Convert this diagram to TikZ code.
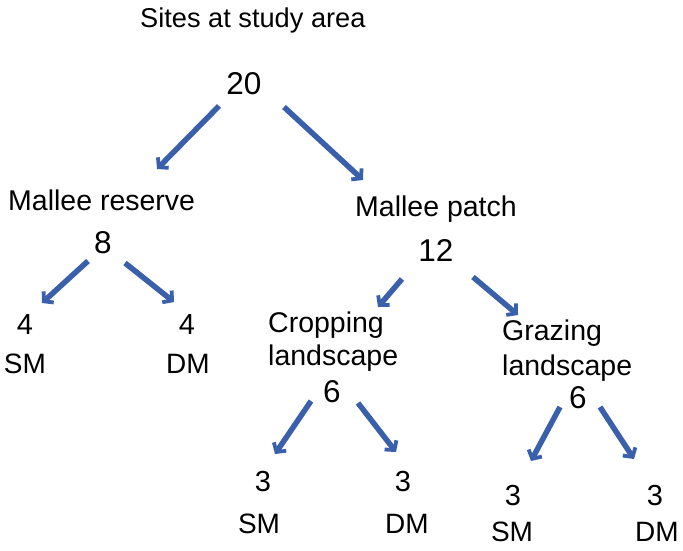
\documentclass[tikz,border=0pt]{standalone}
\usepackage{fontspec}
\setmainfont{Liberation Sans}
\usetikzlibrary{arrows.meta}
\definecolor{arrblue}{RGB}{58,96,172}
\tikzset{
  lbl/.style={inner sep=0pt, anchor=base west, font=\fontsize{28.5}{32}\selectfont},
  ttl/.style={inner sep=0pt, anchor=base west, font=\fontsize{27.2}{31}\selectfont},
  mid/.style={inner sep=0pt, anchor=base, font=\fontsize{31.5}{35}\selectfont},
  leaf/.style={inner sep=0pt, anchor=base, font=\fontsize{29}{33}\selectfont},
  tag/.style={inner sep=0pt, anchor=base, font=\fontsize{28}{32}\selectfont},
  arr/.style={draw=arrblue, line width=5.5pt, -{Straight Barb[length=6.5pt,width=15pt,line width=3.8pt]}}
}
\begin{document}
\begin{tikzpicture}[x=1pt,y=-1pt]
\useasboundingbox (0,0) rectangle (683,550);
% texts
\node[ttl] (title) at (140,27) {Sites at study area};
\node[mid] (n20) at (244,94) {20};
\node[lbl] (mr) at (8,210) {Mallee reserve};
\node[mid] (n8) at (103,253) {8};
\node[leaf] (n4a) at (25,334) {4};
\node[tag] (sm1) at (25,373) {SM};
\node[leaf] (n4b) at (187,334) {4};
\node[tag] (dm1) at (188,373) {DM};
\node[lbl] (mp) at (355,216) {Mallee patch};
\node[mid] (n12) at (436,261) {12};
\node[lbl] (crop1) at (268,332) {Cropping};
\node[lbl] (crop2) at (268,365) {landscape};
\node[mid] (n6a) at (332,402) {6};
\node[leaf] (n3a) at (263,491) {3};
\node[tag] (sm2) at (259,533) {SM};
\node[leaf] (n3b) at (403,491) {3};
\node[tag] (dm2) at (407,533) {DM};
\node[lbl] (graz1) at (502,340) {Grazing};
\node[lbl] (graz2) at (502,375) {landscape};
\node[mid] (n6b) at (578,408) {6};
\node[leaf] (n3c) at (513,505) {3};
\node[tag] (sm3) at (512,541) {SM};
\node[leaf] (n3d) at (655,505) {3};
\node[tag] (dm3) at (657,541) {DM};
% arrow end points
\coordinate (a1s) at (219,106); \coordinate (a1e) at (157,169);
\coordinate (a2s) at (284,107); \coordinate (a2e) at (363,180);
\coordinate (b1s) at (88,261); \coordinate (b1e) at (42,303);
\coordinate (b2s) at (125,263); \coordinate (b2e) at (174,302);
\coordinate (c1s) at (402,279); \coordinate (c1e) at (378,307);
\coordinate (c2s) at (473,277); \coordinate (c2e) at (518,315);
\coordinate (d1s) at (311,401); \coordinate (d1e) at (275,454);
\coordinate (d2s) at (358,403); \coordinate (d2e) at (396,452);
\coordinate (e1s) at (560,407); \coordinate (e1e) at (531,461);
\coordinate (e2s) at (600,407); \coordinate (e2e) at (634,459);
\foreach \s/\e in {a1s/a1e,a2s/a2e,b1s/b1e,b2s/b2e,c1s/c1e,c2s/c2e,d1s/d1e,d2s/d2e,e1s/e1e,e2s/e2e}
  \draw[arr] (\s) -- (\e);
\end{tikzpicture}
\end{document}
